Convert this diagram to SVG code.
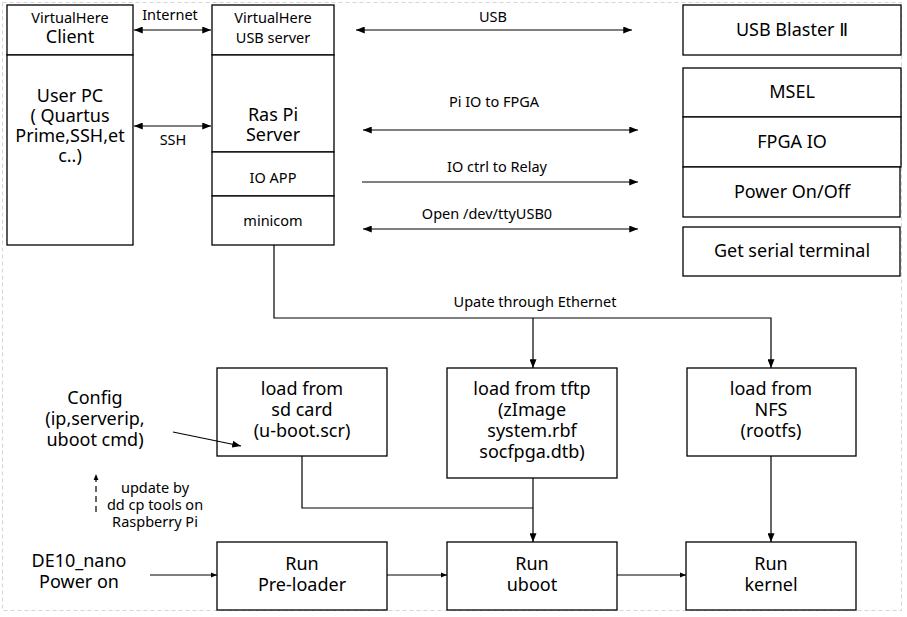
<svg xmlns="http://www.w3.org/2000/svg" width="907" height="617" viewBox="0 0 907 617">
<style>
.box{fill:#fff;stroke:#000;stroke-width:1.3}
.ln{fill:none;stroke:#000;stroke-width:1.2}
text{font-family:"Noto Sans","Open Sans","DejaVu Sans",sans-serif;fill:#000;text-anchor:middle}
.L{font-size:18px}
.S{font-size:14.5px}
</style>
<defs>
<marker id="ah" viewBox="0 0 10 8" refX="10" refY="4" markerWidth="9" markerHeight="7" markerUnits="userSpaceOnUse" orient="auto-start-reverse"><path d="M0,0L10,4L0,8z" fill="#000"/></marker>
<marker id="as" viewBox="0 0 10 8" refX="10" refY="4" markerWidth="6" markerHeight="6" markerUnits="userSpaceOnUse" orient="auto-start-reverse"><path d="M0,0L10,4L0,8z" fill="#000"/></marker>
</defs>
<rect width="907" height="617" fill="#fff"/>
<rect x="2.5" y="2.5" width="899" height="608" fill="none" stroke="#d4d4d4" stroke-width="1" stroke-dasharray="4 3"/>

<g id="client">
<rect class="box" x="7" y="5" width="126" height="50"/>
<text class="S" x="70" y="23">VirtualHere</text>
<text class="L" x="70" y="43">Client</text>
</g>
<g id="userpc">
<rect class="box" x="7" y="55" width="126" height="190"/>
<text class="L" x="70" y="102">User PC</text>
<text class="L" x="70" y="122">( Quartus</text>
<text class="L" x="70" y="142">Prime,SSH,et</text>
<text class="L" x="70" y="162">c..)</text>
</g>
<g id="usbserver">
<rect class="box" x="212" y="5" width="122" height="50"/>
<text class="S" x="273" y="23">VirtualHere</text>
<text class="S" x="273" y="43">USB server</text>
</g>
<g id="raspi">
<rect class="box" x="212" y="55" width="122" height="97"/>
<text class="L" x="273" y="121">Ras Pi</text>
<text class="L" x="273" y="141">Server</text>
</g>
<g id="ioapp">
<rect class="box" x="212" y="152" width="122" height="44"/>
<text class="S" x="273" y="183">IO APP</text>
</g>
<g id="minicom">
<rect class="box" x="212" y="196" width="122" height="49"/>
<text class="S" x="273" y="226">minicom</text>
</g>

<g id="blaster">
<rect class="box" x="683" y="5" width="218" height="50"/>
<text class="L" x="792" y="36">USB Blaster Ⅱ</text>
</g>
<g id="msel">
<rect class="box" x="683" y="68" width="218" height="49"/>
<text class="L" x="792" y="98">MSEL</text>
</g>
<g id="fpgaio">
<rect class="box" x="683" y="117" width="218" height="50"/>
<text class="L" x="792" y="148">FPGA IO</text>
</g>
<g id="power">
<rect class="box" x="683" y="167" width="217" height="50"/>
<text class="L" x="792" y="198">Power On/Off</text>
</g>
<g id="serial">
<rect class="box" x="683" y="227" width="217" height="49"/>
<text class="L" x="792" y="257">Get serial terminal</text>
</g>

<g id="sdcard">
<rect class="box" x="217" y="368" width="170" height="88"/>
<text class="L" x="302" y="395">load from</text>
<text class="L" x="302" y="416">sd card</text>
<text class="L" x="302" y="437">(u-boot.scr)</text>
</g>
<g id="tftp">
<rect class="box" x="447" y="368" width="170" height="110"/>
<text class="L" x="532" y="395">load from tftp</text>
<text class="L" x="532" y="416">(zImage</text>
<text class="L" x="532" y="437">system.rbf</text>
<text class="L" x="532" y="458">socfpga.dtb)</text>
</g>
<g id="nfs">
<rect class="box" x="687" y="368" width="169" height="88"/>
<text class="L" x="771" y="395">load from</text>
<text class="L" x="771" y="416">NFS</text>
<text class="L" x="771" y="437">(rootfs)</text>
</g>
<g id="preloader">
<rect class="box" x="217" y="542" width="170" height="68"/>
<text class="L" x="302" y="570">Run</text>
<text class="L" x="302" y="591">Pre-loader</text>
</g>
<g id="uboot">
<rect class="box" x="447" y="542" width="170" height="68"/>
<text class="L" x="532" y="570">Run</text>
<text class="L" x="532" y="591">uboot</text>
</g>
<g id="kernel">
<rect class="box" x="686" y="542" width="170" height="68"/>
<text class="L" x="771" y="570">Run</text>
<text class="L" x="771" y="591">kernel</text>
</g>
<g id="config">
<text class="L" x="95" y="404">Config</text>
<text class="L" x="95" y="425">(ip,serverip,</text>
<text class="L" x="95" y="446">uboot cmd)</text>
</g>
<g id="updateby">
<text class="S" x="155" y="493">update by</text>
<text class="S" x="155" y="510">dd cp tools on</text>
<text class="S" x="155" y="527">Raspberry Pi</text>
</g>
<g id="de10">
<text class="L" x="79" y="567">DE10_nano</text>
<text class="L" x="79" y="588">Power on</text>
</g>

<g id="connectors">
<line class="ln" x1="134" y1="30" x2="211" y2="30" marker-start="url(#ah)" marker-end="url(#ah)"/>
<text class="S" x="170" y="20">Internet</text>
<line class="ln" x1="134" y1="126" x2="211" y2="126" marker-start="url(#ah)" marker-end="url(#ah)"/>
<text class="S" x="173" y="145">SSH</text>
<line class="ln" x1="356" y1="30" x2="632" y2="30" marker-start="url(#ah)" marker-end="url(#ah)"/>
<text class="S" x="493" y="22">USB</text>
<line class="ln" x1="363" y1="130" x2="638" y2="130" marker-start="url(#ah)" marker-end="url(#ah)"/>
<text class="S" x="494" y="107">Pi IO to FPGA</text>
<line class="ln" x1="362" y1="182" x2="638" y2="182" marker-end="url(#ah)"/>
<text class="S" x="497" y="172">IO ctrl to Relay</text>
<line class="ln" x1="363" y1="229" x2="638" y2="229" marker-start="url(#ah)" marker-end="url(#ah)"/>
<text class="S" x="487" y="219">Open /dev/ttyUSB0</text>
<path class="ln" d="M274,245V318H771V368" marker-end="url(#ah)"/>
<line class="ln" x1="533" y1="318" x2="533" y2="368" marker-end="url(#ah)"/>
<text class="S" x="535" y="307">Upate through Ethernet</text>
<path class="ln" d="M302,456V508H533"/>
<line class="ln" x1="533" y1="478" x2="533" y2="542" marker-end="url(#ah)"/>
<line class="ln" x1="771" y1="456" x2="771" y2="542" marker-end="url(#ah)"/>
<line class="ln" x1="150" y1="575" x2="217" y2="575" marker-end="url(#as)"/>
<line class="ln" x1="387" y1="575" x2="447" y2="575" marker-end="url(#as)"/>
<line class="ln" x1="617" y1="575" x2="686" y2="575" marker-end="url(#as)"/>
<line class="ln" x1="173" y1="432" x2="241" y2="446" marker-end="url(#ah)"/>
<line class="ln" x1="96" y1="512" x2="96" y2="474" stroke-dasharray="6 4" marker-end="url(#as)"/>
</g>
</svg>
